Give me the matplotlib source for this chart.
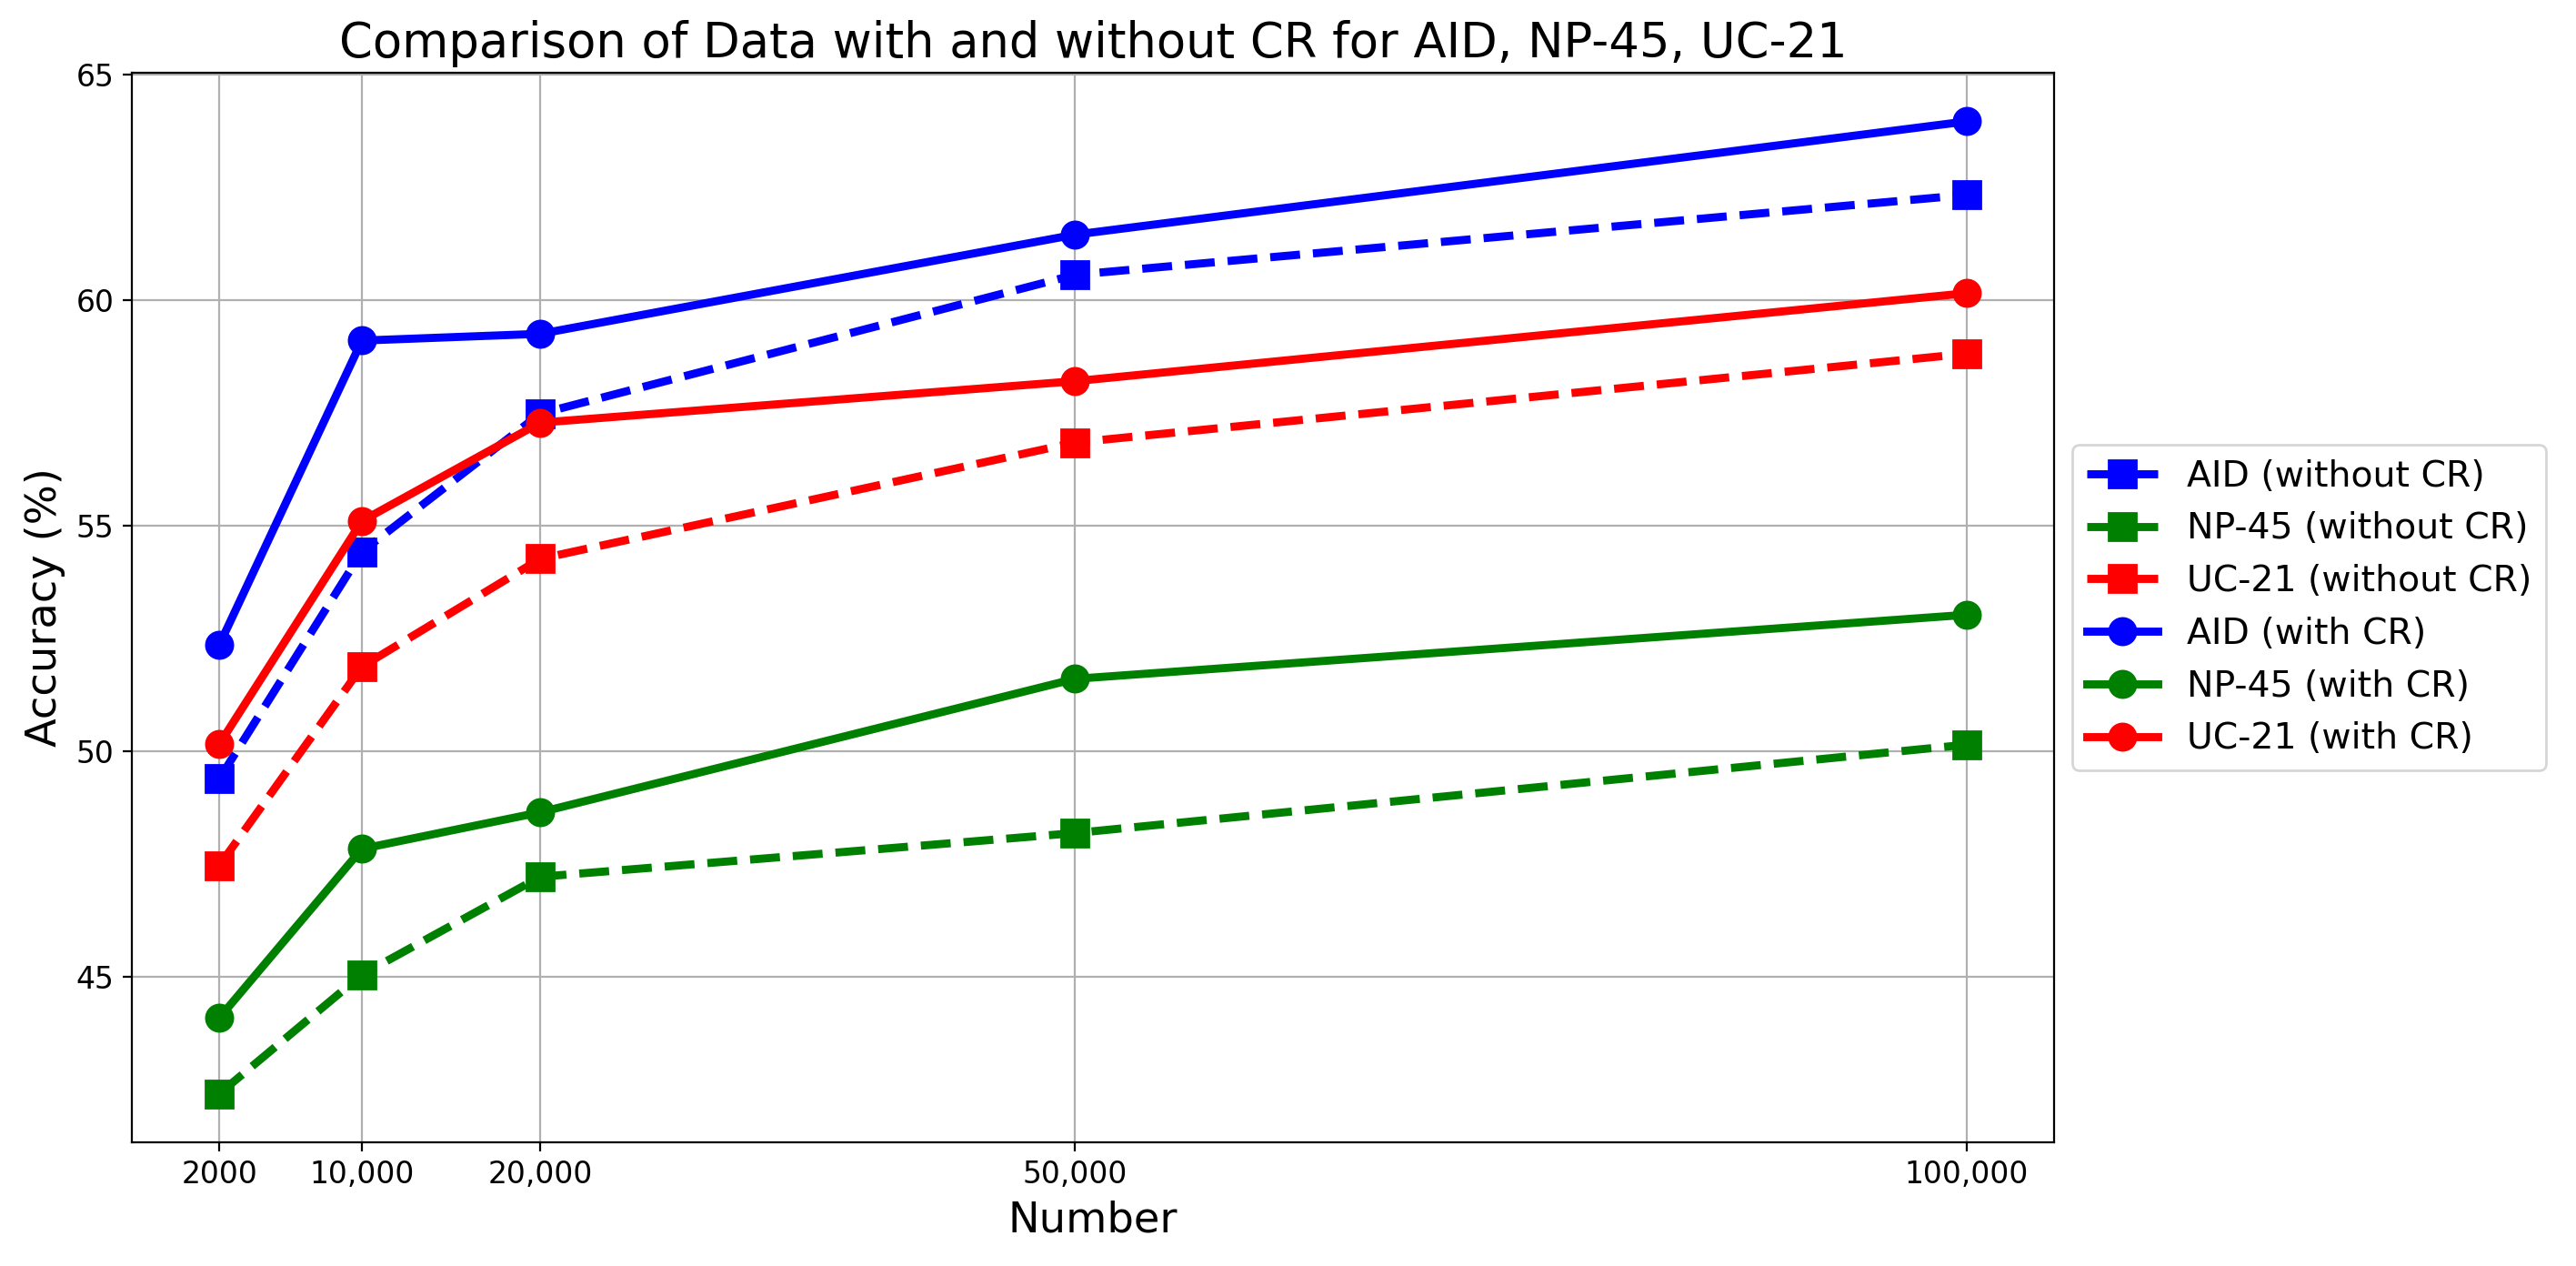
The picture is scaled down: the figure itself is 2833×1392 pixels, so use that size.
import matplotlib
matplotlib.use("Agg")
import matplotlib.pyplot as plt

numbers = [2000, 10000, 20000, 50000, 100000]
tick_labels = ["2000", "10,000", "20,000", "50,000", "100,000"]

aid_without = [49.38, 54.42, 57.48, 60.56, 62.33]
np45_without = [42.40, 45.04, 47.21, 48.18, 50.14]
uc21_without = [47.46, 51.87, 54.26, 56.84, 58.81]
aid_with = [52.35, 59.10, 59.25, 61.45, 63.96]
np45_with = [44.08, 47.83, 48.64, 51.60, 53.02]
uc21_with = [50.15, 55.10, 57.28, 58.20, 60.15]

fig = plt.figure(figsize=(14.165, 6.96), dpi=200)
ax = fig.add_axes([0.0512, 0.0977, 0.7462, 0.8448])

lw = 3.2
ms = 10.5
ax.plot(numbers, aid_without, color="blue", linestyle="--", marker="s", linewidth=lw, markersize=ms, label="AID (without CR)")
ax.plot(numbers, np45_without, color="green", linestyle="--", marker="s", linewidth=lw, markersize=ms, label="NP-45 (without CR)")
ax.plot(numbers, uc21_without, color="red", linestyle="--", marker="s", linewidth=lw, markersize=ms, label="UC-21 (without CR)")
ax.plot(numbers, aid_with, color="blue", linestyle="-", marker="o", linewidth=lw, markersize=ms, label="AID (with CR)")
ax.plot(numbers, np45_with, color="green", linestyle="-", marker="o", linewidth=lw, markersize=ms, label="NP-45 (with CR)")
ax.plot(numbers, uc21_with, color="red", linestyle="-", marker="o", linewidth=lw, markersize=ms, label="UC-21 (with CR)")

ax.set_xticks(numbers)
ax.set_xticklabels(tick_labels)
ax.tick_params(labelsize=11.9)
ax.set_title("Comparison of Data with and without CR for AID, NP-45, UC-21", fontsize=19)
ax.set_xlabel("Number", fontsize=16.7)
ax.set_ylabel("Accuracy (%)", fontsize=16.7)
ax.grid(True)
ax.legend(loc="center left", bbox_to_anchor=(1.0, 0.5), fontsize=14.2)

fig.savefig("out.png", dpi=200)
